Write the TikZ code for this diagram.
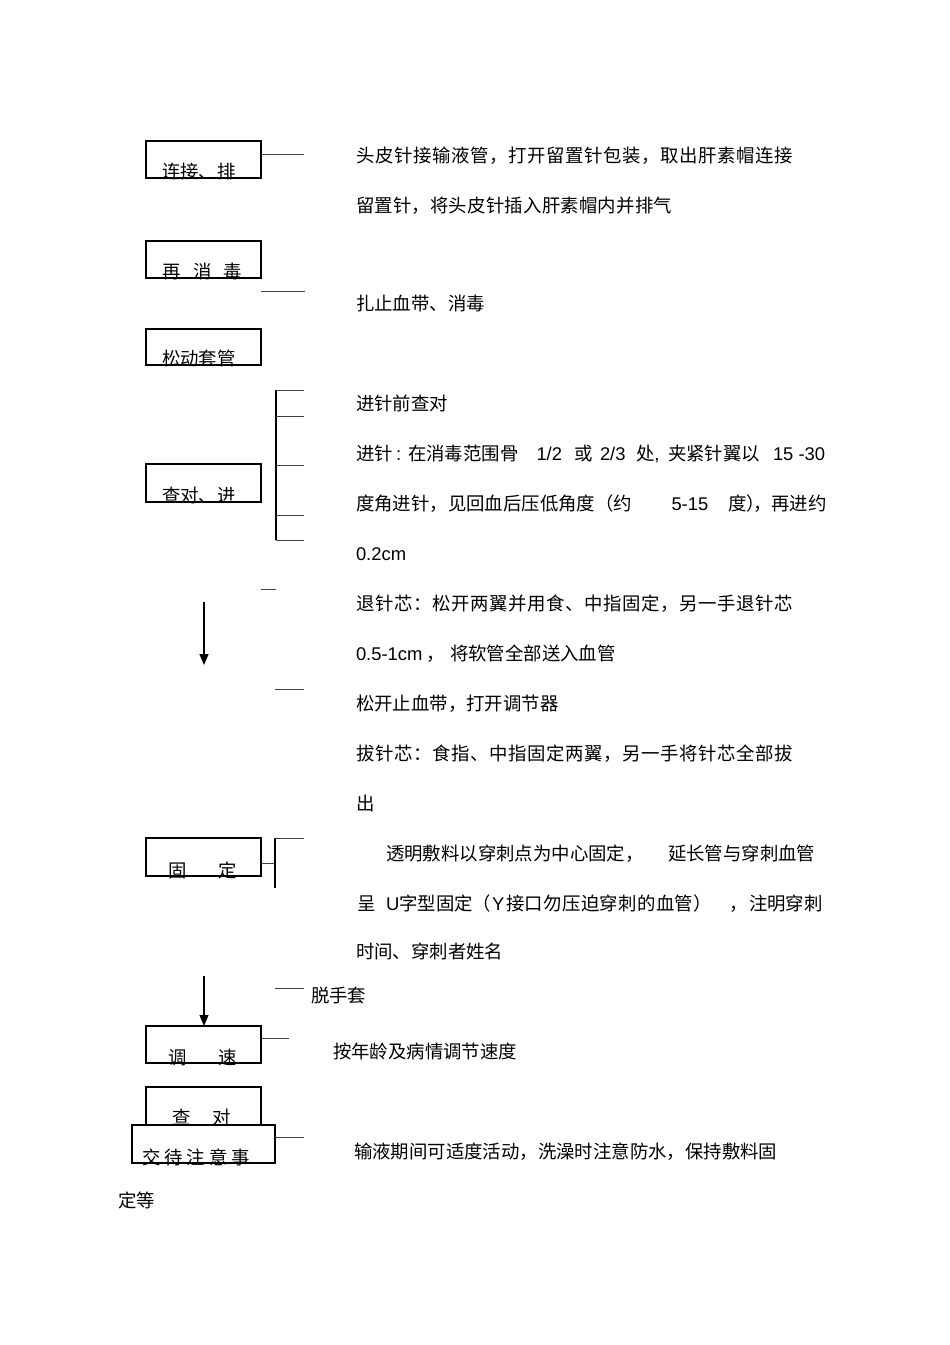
\documentclass[tikz,border=0pt]{standalone}
\usepackage{fontspec}
\setmainfont{Noto Sans CJK SC}
\newfontfamily\lat{Liberation Sans}
\usetikzlibrary{arrows.meta}
\begin{document}
\begin{tikzpicture}[x=1pt,y=-1pt,
  every node/.style={inner sep=0pt,outer sep=0pt,font=\fontsize{18.4}{22}\selectfont},
  txt/.style={anchor=base west},
  stepbox/.style={draw,line width=1.1pt,minimum width=115pt,anchor=north west},
  conn/.style={line width=1pt,draw=black!75},
  brk/.style={line width=2pt},
  arr/.style={line width=1.2pt,-{Triangle[width=9pt,length=11pt]}}]
\fill[white] (0,0) rectangle (950,1345);
\path[use as bounding box] (0,0) rectangle (950,1345);

% boxes
\node[stepbox,minimum height=37pt] (b1) at (146,141) {};
\node[stepbox,minimum height=37pt] (b2) at (146,241) {};
\node[stepbox,minimum height=36pt] (b3) at (146,329) {};
\node[stepbox,minimum height=38pt] (b4) at (146,464) {};
\node[stepbox,minimum height=38pt] (b5) at (146,838) {};
\node[stepbox,minimum height=37pt] (b6) at (146,1026) {};
\node[stepbox,minimum height=38pt] (b7) at (146,1087) {};
\node[stepbox,minimum height=38pt,minimum width=143pt] (b8) at (132,1125) {};
\draw[line width=2pt] (b4.south west) -- (b4.south east);

% box labels
\node[txt] (n1) at (162,178.5) {连接、排};
\node[txt] (n2) at (162,278.5) {再\hspace{13pt}消\hspace{12pt}毒};
\node[txt] (n3) at (162,365.5) {松动套管};
\node[txt] (n4) at (162,502) {查对、进};
\node[txt] (n5) at (168,877) {固\hspace{32.6pt}定};
\node[txt] (n6) at (168,1064) {调\hspace{32.6pt}速};
\node[txt] (n7) at (172,1124) {查\hspace{22pt}对};
\node[txt] (n8) at (142,1164) {交\hspace{4pt}待\hspace{4pt}注\hspace{4pt}意\hspace{4pt}事};

% connectors
\coordinate (c1) at (304,154);
\draw[conn] (b1.east |- c1) -- (c1);
\coordinate (c2a) at (261,291);
\coordinate (c2b) at (305,291);
\draw[conn] (c2a) -- (c2b);
\coordinate (k1) at (276,390);
\coordinate (k2) at (276,540);
\draw[brk] (k1) -- (k2);
\foreach \yy [count=\i] in {390,416,465,515,540} {
  \coordinate (tk\i) at (304,\yy);
  \draw[conn] (k1 |- tk\i) -- (tk\i);
}
\coordinate (d1) at (261,589);
\coordinate (d2) at (276,589);
\draw[conn] (d1) -- (d2);
\coordinate (a1s) at (204,602);
\coordinate (a1e) at (204,665);
\draw[arr] (a1s) -- (a1e);
\coordinate (e1) at (275,689);
\coordinate (e2) at (304,689);
\draw[conn] (e1) -- (e2);
\coordinate (f1) at (275,863);
\draw[conn] (b5.east |- f1) -- (f1);
\coordinate (f2) at (275,838);
\coordinate (f3) at (275,888);
\coordinate (f4) at (304,838);
\draw[brk] (f2) -- (f3);
\draw[conn] (f2) -- (f4);
\coordinate (a2s) at (204,976);
\draw[arr] (a2s) -- (a2s |- b6.north);
\coordinate (g1) at (275,988);
\coordinate (g2) at (304,988);
\draw[conn] (g1) -- (g2);
\coordinate (h1) at (289,1038);
\draw[conn] (b6.east |- h1) -- (h1);
\coordinate (i1) at (304,1137);
\draw[conn] (b8.east |- i1) -- (i1);

% right-hand text
\node[txt] (l1) at (356,162) {\addfontfeatures{LetterSpace=3.4}头皮针接输液管，打开留置针包装，取出肝素帽连接};
\node[txt] (l2) at (356,212) {\addfontfeatures{LetterSpace=1.1}留置针，将头皮针插入肝素帽内并排气};
\node[txt] (l3) at (356,310) {扎止血带、消毒};
\node[txt] (l4) at (356,410) {进针前查对};
\node[txt] (l5a) at (356,460) {进针};
\node[txt] (l5b) at (396,460) {\lat :};
\node[txt] (l5c) at (408,460) {在消毒范围骨};
\node[txt] (l5d) at (536.5,460) {\lat 1/2};
\node[txt] (l5e) at (574.5,460) {或};
\node[txt] (l5f) at (600,460) {\lat 2/3};
\node[txt] (l5g) at (636,460) {处{\lat ,}};
\node[txt] (l5h) at (668,460) {夹紧针翼以};
\node[txt] (l5i) at (773,460) {\lat 15 -30};
\node[txt] (l6a) at (356,510) {度角进针，见回血后压低角度（约};
\node[txt] (l6b) at (671.5,510) {\lat 5-15};
\node[txt] (l6c) at (728,510) {度）};
\node[txt] (l6d) at (753,510) {，再进约};
\node[txt] (l7) at (356,560) {\lat 0.2cm};
\node[txt] (l8) at (356,610) {\addfontfeatures{LetterSpace=3.4}退针芯：松开两翼并用食、中指固定，另一手退针芯};
\node[txt] (l9a) at (356,660) {\lat 0.5-1cm};
\node[txt] (l9b) at (426,660) {，};
\node[txt] (l9c) at (450,660) {将软管全部送入血管};
\node[txt] (l10) at (356,710) {松开止血带，打开调节器};
\node[txt] (l11) at (356,760) {\addfontfeatures{LetterSpace=3.4}拔针芯：食指、中指固定两翼，另一手将针芯全部拔};
\node[txt] (l12) at (356,810) {出};
\node[txt] (l13a) at (386,860) {透明敷料以穿刺点为中心固定，};
\node[txt] (l13b) at (668,860) {延长管与穿刺血管};
\node[txt] (l14a) at (357,910) {呈};
\node[txt] (l14b) at (386,910) {{\lat U}字型固定};
\node[txt] (l14c) at (472,910) {（};
\node[txt] (l14d) at (492,910) {\lat Y};
\node[txt] (l14e) at (506,910) {\addfontfeatures{LetterSpace=2}接口勿压迫穿刺的血管）};
\node[txt] (l14h) at (729,910) {，};
\node[txt] (l14i) at (749,910) {注明穿刺};
\node[txt] (l15) at (356,958) {时间、穿刺者姓名};
\node[txt] (l16) at (311,1002) {脱手套};
\node[txt] (l17) at (333,1058) {按年龄及病情调节速度};
\node[txt] (l18) at (354,1158) {输液期间可适度活动，洗澡时注意防水，保持敷料固};
\node[txt] (l19) at (118,1207) {定等};
\end{tikzpicture}
\end{document}
